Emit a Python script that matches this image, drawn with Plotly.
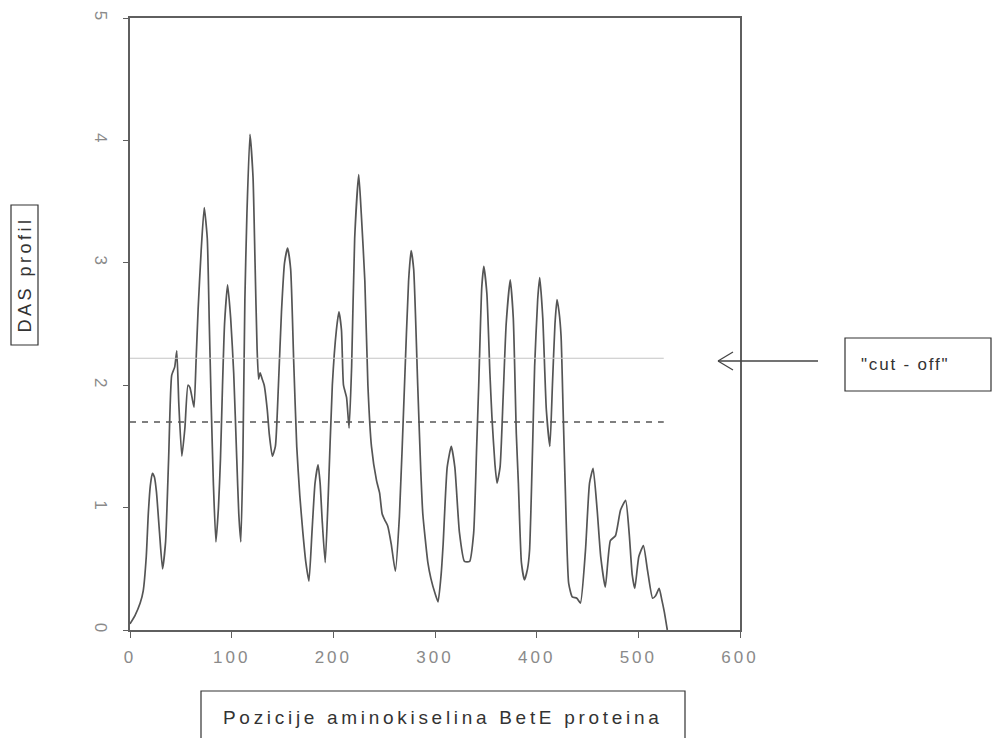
import plotly.graph_objects as go

# ---- data ----
pos = [0, 5, 10, 13, 16, 18, 20, 22, 24, 26, 29, 32, 35, 38, 41, 44, 46, 48, 51, 54,
       57, 59, 61, 63, 65, 67, 70, 73, 76, 78, 80, 82, 84.5, 87, 89, 91, 93, 96, 99, 102,
       105, 107, 109, 111, 113, 115, 118, 121, 123, 125, 126.5, 128, 130, 132, 135, 137, 140, 143, 146, 149,
       152, 155, 158, 161, 164, 167, 170, 173, 176, 179, 182, 185, 187, 189, 192, 195, 199, 203, 205.5, 208,
       210, 213, 215.5, 218, 221, 225, 227.5, 231, 234, 237.5, 242.5, 245.5, 248, 250.5, 253.5, 257, 261, 265, 270, 274,
       276.5, 279, 283, 286, 288, 293, 296, 300, 303, 306, 308, 312, 316, 319.5, 324, 329, 334, 338, 341, 343,
       346, 348, 351, 354, 356, 359, 361, 364, 367, 370, 374, 377, 380, 382, 385, 388, 391, 393, 396, 398,
       401, 403, 406, 409.5, 413, 415.5, 418, 420, 422, 424, 426, 428, 431.5, 435, 439.5, 443, 448, 452, 455.5, 459.5,
       463, 467.5, 472.5, 477.5, 482.5, 487.5, 491, 494, 496.5, 500.5, 505, 509, 514, 517, 520.5, 523, 525.5, 528.5]
das = [0.05, 0.12, 0.22, 0.32, 0.6, 0.95, 1.18, 1.28, 1.25, 1.13, 0.8, 0.5, 0.72, 1.4, 2.08, 2.15, 2.28, 1.85, 1.42, 1.65,
       2.0, 1.98, 1.9, 1.82, 2.2, 2.62, 3.1, 3.45, 3.2, 2.5, 1.8, 1.2, 0.72, 1.0, 1.4, 2.0, 2.5, 2.82, 2.55, 2.1,
       1.4, 0.95, 0.72, 1.4, 2.7, 3.4, 4.05, 3.7, 3.0, 2.3, 2.05, 2.1, 2.05, 2.0, 1.8, 1.6, 1.42, 1.5, 2.0, 2.6,
       3.0, 3.12, 2.95, 2.2, 1.5, 1.1, 0.8, 0.55, 0.4, 0.8, 1.2, 1.35, 1.2, 0.9, 0.55, 1.1, 2.0, 2.45, 2.6, 2.45,
       2.0, 1.9, 1.65, 2.15, 3.2, 3.72, 3.4, 2.85, 2.0, 1.5, 1.22, 1.12, 0.95, 0.9, 0.85, 0.7, 0.48, 0.93, 2.0, 2.85,
       3.1, 2.95, 2.0, 1.3, 0.95, 0.55, 0.42, 0.3, 0.23, 0.45, 0.7, 1.33, 1.5, 1.33, 0.8, 0.56, 0.56, 0.79, 1.5, 2.0,
       2.8, 2.97, 2.75, 2.1, 1.74, 1.35, 1.2, 1.33, 1.9, 2.5, 2.86, 2.55, 1.6, 1.2, 0.55, 0.41, 0.5, 0.65, 1.5, 2.15,
       2.7, 2.88, 2.55, 1.8, 1.5, 2.0, 2.5, 2.7, 2.6, 2.4, 1.8, 1.2, 0.38, 0.27, 0.26, 0.22, 0.65, 1.2, 1.32, 0.98,
       0.6, 0.35, 0.73, 0.77, 0.98, 1.06, 0.79, 0.45, 0.34, 0.6, 0.69, 0.49, 0.26, 0.28, 0.34, 0.25, 0.15, 0.0]

cutoff_value = 2.22      # solid "cut-off" line
dashed_value = 1.70      # dashed reference line
line_end = [0, 525]      # x extent of the two horizontal lines

x_ticks = [0, 100, 200, 300, 400, 500, 600]
y_ticks = [0, 1, 2, 3, 4, 5]

x_title = "Pozicije aminokiselina BetE proteina"
y_title = "DAS profil"
cut_label = '"cut - off"'

# ---- layout helpers (pixel -> paper) ----
W, H = 993, 738
L, R, T, B = 130, 253, 18, 108
PW, PH = W - L - R, H - T - B


def px(xp):
    return (xp - L) / PW


def py(yp):
    return (H - B - yp) / PH


def spaced(s, sp):
    return '<span style="letter-spacing: %spx">%s</span>' % (sp, s)


AX = "#5f5f5f"
TXT = "#8a8a8a"
FONT = "Liberation Sans, Arial, sans-serif"

fig = go.Figure()
fig.add_trace(go.Scatter(
    x=pos, y=das, mode="lines",
    line=dict(color="#555555", width=1.7, shape="spline", smoothing=0.5),
    hoverinfo="skip", showlegend=False))

shapes = [
    dict(type="line", xref="x", yref="y", x0=line_end[0], x1=line_end[1],
         y0=cutoff_value, y1=cutoff_value, line=dict(color="#c4c4c4", width=1.2)),
    dict(type="line", xref="x", yref="y", x0=line_end[0], x1=line_end[1],
         y0=dashed_value, y1=dashed_value, line=dict(color="#555555", width=1.5, dash="6px,6px")),
    dict(type="line", xref="paper", yref="paper", x0=px(718), x1=px(818), y0=py(361), y1=py(361),
         line=dict(color="#444444", width=1.3)),
    dict(type="line", xref="paper", yref="paper", x0=px(718), x1=px(733), y0=py(361), y1=py(352),
         line=dict(color="#444444", width=1.3)),
    dict(type="line", xref="paper", yref="paper", x0=px(718), x1=px(733), y0=py(361), y1=py(370),
         line=dict(color="#444444", width=1.3)),
    dict(type="rect", xref="paper", yref="paper", x0=px(845), x1=px(991), y0=py(338), y1=py(391),
         line=dict(color="#333333", width=1.2)),
    dict(type="rect", xref="paper", yref="paper", x0=px(201), x1=px(685), y0=py(691), y1=py(745),
         line=dict(color="#333333", width=1.2)),
    dict(type="rect", xref="paper", yref="paper", x0=px(11), x1=px(38), y0=py(205), y1=py(345),
         line=dict(color="#333333", width=1.2)),
]

annotations = [
    dict(text=spaced(cut_label, 1.8), xref="paper", yref="paper", x=px(905), y=py(364), showarrow=False,
         font=dict(family=FONT, size=17, color="#333333"),
         xanchor="center", yanchor="middle"),
    dict(text=spaced(x_title, 3.7), xref="paper", yref="paper", x=px(443), y=py(717), showarrow=False,
         font=dict(family=FONT, size=19, color="#333333"),
         xanchor="center", yanchor="middle"),
    dict(text=spaced(y_title, 3.5), xref="paper", yref="paper", x=px(24.5), y=py(275), showarrow=False,
         textangle=-90,
         font=dict(family=FONT, size=18, color="#333333"),
         xanchor="center", yanchor="middle"),
]

fig.update_layout(
    width=W, height=H,
    margin=dict(l=L, r=R, t=T, b=B),
    paper_bgcolor="white", plot_bgcolor="white",
    shapes=shapes, annotations=annotations,
    xaxis=dict(range=[0, 600], tickvals=x_ticks,
               ticktext=[spaced(str(v), 3) for v in x_ticks],
               showgrid=False, zeroline=False, showline=True, mirror=True,
               linecolor=AX, linewidth=1.5, ticks="outside", ticklen=6, tickcolor=AX,
               ticklabelstandoff=5,
               tickfont=dict(family=FONT, size=17, color=TXT)),
    yaxis=dict(range=[0, 5], tickvals=y_ticks, ticktext=[str(v) for v in y_ticks],
               showgrid=False, zeroline=False, showline=True, mirror=True,
               linecolor=AX, linewidth=1.5, ticks="outside", ticklen=5, tickcolor=AX,
               tickangle=90, ticklabelstandoff=8,
               tickfont=dict(family=FONT, size=17, color=TXT)),
)

fig.write_html("out.html")
